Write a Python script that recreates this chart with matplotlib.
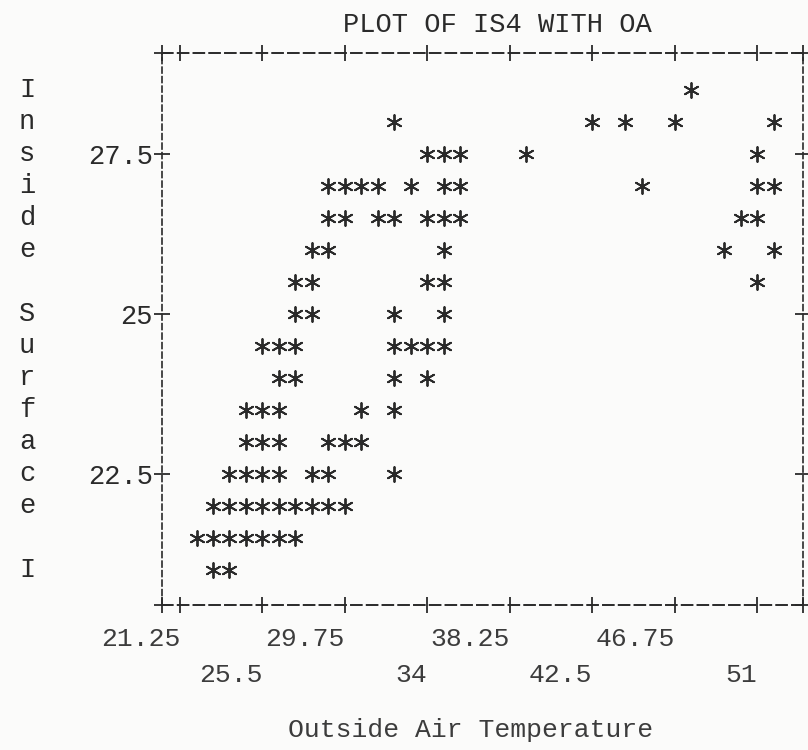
import matplotlib
matplotlib.use("Agg")
from matplotlib import pyplot as plt
import matplotlib.transforms as mtransforms

# inside surface temperature (IS4) rows and outside air temperature (OA), one entry per '*'
is4 = [28.5,
       28, 28, 28, 28, 28,
       27.5, 27.5, 27.5, 27.5, 27.5,
       27, 27, 27, 27, 27, 27, 27, 27, 27, 27,
       26.5, 26.5, 26.5, 26.5, 26.5, 26.5, 26.5, 26.5, 26.5,
       26, 26, 26, 26, 26,
       25.5, 25.5, 25.5, 25.5, 25.5,
       25, 25, 25, 25,
       24.5, 24.5, 24.5, 24.5, 24.5, 24.5, 24.5,
       24, 24, 24, 24,
       23.5, 23.5, 23.5, 23.5, 23.5,
       23, 23, 23, 23, 23, 23,
       22.5, 22.5, 22.5, 22.5, 22.5, 22.5, 22.5,
       22, 22, 22, 22, 22, 22, 22, 22, 22,
       21.5, 21.5, 21.5, 21.5, 21.5, 21.5, 21.5,
       21, 21]
oa = [47.60,
      32.30, 42.50, 44.20, 46.75, 51.85,
      34.00, 34.85, 35.70, 39.10, 51.00,
      28.90, 29.75, 30.60, 31.45, 33.15, 34.85, 35.70, 45.05, 51.00, 51.85,
      28.90, 29.75, 31.45, 32.30, 34.00, 34.85, 35.70, 50.15, 51.00,
      28.05, 28.90, 34.85, 49.30, 51.85,
      27.20, 28.05, 34.00, 34.85, 51.00,
      27.20, 28.05, 32.30, 34.85,
      25.50, 26.35, 27.20, 32.30, 33.15, 34.00, 34.85,
      26.35, 27.20, 32.30, 34.00,
      24.65, 25.50, 26.35, 30.60, 32.30,
      24.65, 25.50, 26.35, 28.90, 29.75, 30.60,
      23.80, 24.65, 25.50, 26.35, 28.05, 28.90, 32.30,
      22.95, 23.80, 24.65, 25.50, 26.35, 27.20, 28.05, 28.90, 29.75,
      22.10, 22.95, 23.80, 24.65, 25.50, 26.35, 27.20,
      22.95, 23.80]

x_ticks_upper = [21.25, 29.75, 38.25, 46.75]
x_ticks_lower = [25.5, 34, 42.5, 51]
y_ticks = [22.5, 25, 27.5]
y_tick_labels = ["22.5", "25", "27.5"]
y_label = "Inside Surface I"
x_label = "Outside Air Temperature"
title = "PLOT OF IS4 WITH OA"

FONT = "Liberation Mono"
INK = "#2a2a2a"
SOFT = "#3c3c3c"

fig = plt.figure(figsize=(8.08, 7.5), dpi=100, facecolor="#fbfbfa")
ax = fig.add_axes([162 / 808, 1 - 605 / 750, (803 - 162) / 808, (605 - 53) / 750])
ax.set_facecolor("#fbfbfa")

ax.scatter(oa, is4, marker=(6, 2, 0), s=115, linewidths=1.35, color=INK, clip_on=False)

ax.set_xlim(20.32, 53.37)
ax.set_ylim(20.45, 29.08)

# dashed "line printer" border
for side in ["top", "bottom"]:
    ax.spines[side].set_linestyle((0, (5.5, 2.6)))
    ax.spines[side].set_linewidth(1.4)
    ax.spines[side].set_color(INK)
for side in ["left", "right"]:
    ax.spines[side].set_linestyle((0, (3.5, 2.2)))
    ax.spines[side].set_linewidth(1.2)
    ax.spines[side].set_color(INK)

# corner '+' signs
ax.plot([0, 0, 1, 1], [0, 1, 0, 1], ls="none", marker="+", ms=11, mew=1.3,
        color=INK, transform=ax.transAxes, clip_on=False)

ax.set_xticks(x_ticks_upper)
ax.set_xticklabels([f"{v:g}" for v in x_ticks_upper])
ax.set_xticks(x_ticks_lower, minor=True)
ax.set_xticklabels([f"{v:g}" for v in x_ticks_lower], minor=True)
ax.set_yticks(y_ticks)
ax.set_yticklabels(y_tick_labels)

ax.tick_params(axis="both", which="both", direction="inout", length=11, width=1.3,
               color=INK, top=True, right=True)
ax.tick_params(axis="x", which="major", pad=10, labelsize=19, labelcolor=SOFT)
ax.tick_params(axis="x", which="minor", pad=36, labelsize=19, labelcolor=SOFT)
ax.tick_params(axis="y", pad=1, labelsize=19.5, labelcolor=INK)

for t in ax.get_xticklabels(which="both"):
    t.set_horizontalalignment("right")
    t.set_fontfamily(FONT)
for t in ax.get_yticklabels():
    t.set_fontfamily(FONT)

# vertical label, one letter per print row
trans = mtransforms.blended_transform_factory(fig.transFigure, ax.transData)
for i, ch in enumerate(y_label):
    fig.text(27 / 808, 28.5 - 0.5 * i, ch, transform=trans, ha="center", va="center",
             fontsize=19.5, family=FONT, color=INK)

fig.text(497 / 808, 1 - 25 / 750, title, ha="center", va="center",
         fontsize=19.5, family=FONT, color=INK)
fig.text(471 / 808, 1 - 730 / 750, x_label, ha="center", va="center",
         fontsize=19, family=FONT, color=SOFT)

fig.savefig("out.png", dpi=100, facecolor=fig.get_facecolor())
